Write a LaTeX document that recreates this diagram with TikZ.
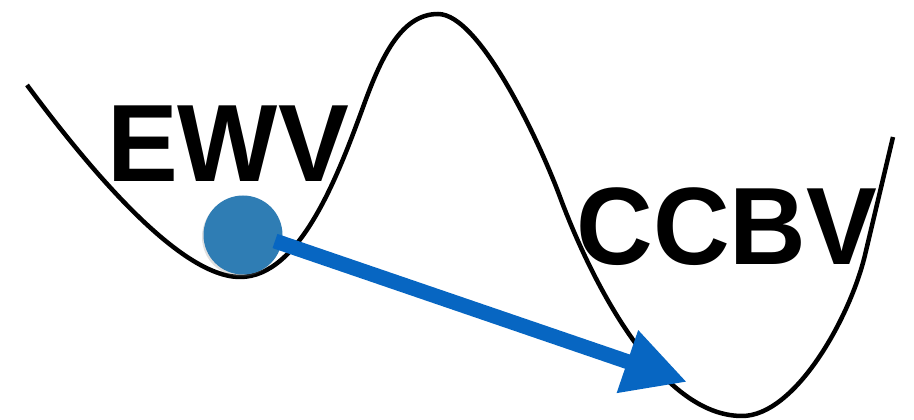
\documentclass[tikz,border=0pt]{standalone}
\usepackage{fontspec}
\setmainfont{Liberation Sans}
\usetikzlibrary{arrows.meta,shadows}
\definecolor{arrowblue}{HTML}{0766C2}
\definecolor{ballblue}{HTML}{2F7DB4}
\tikzset{
  landscape/.style={line width=4.5pt, black},
  biglabel/.style={inner sep=0pt, anchor=base, xscale=0.965,
    font=\fontsize{110}{110}\selectfont\bfseries},
  ball/.style={circle, fill=ballblue, minimum size=79pt, inner sep=0pt,
    drop shadow={opacity=0.25, shadow xshift=-1.5pt, shadow yshift=-2pt}},
  movearrow/.style={arrowblue, line width=15pt,
    -{Triangle[width=62pt,length=63pt]}}
}
\begin{document}
\begin{tikzpicture}[x=1pt,y=1pt]
\useasboundingbox (0,0) rectangle (914,420);
\draw[landscape] (27,335) .. controls (90,250) and (180,143) .. (240,143)
  .. controls (300,143) and (338,245) .. (362,310)
  .. controls (380,360) and (400,406) .. (438,406)
  .. controls (480,406) and (540,277) .. (560,223)
  .. controls (592,137) and (660,4) .. (742,4)
  .. controls (795,4) and (850,102) .. (865,165)
  -- (893,283);
\node[biglabel] (ewv) at (228,238) {EWV};
\node[biglabel] (ccbv) at (727,155) {CCBV};
\node[ball] (b) at (243,185) {};
\coordinate (start) at (275,179);
\coordinate (tip) at (687,38);
\draw[movearrow] (start) -- (tip);
\end{tikzpicture}
\end{document}
